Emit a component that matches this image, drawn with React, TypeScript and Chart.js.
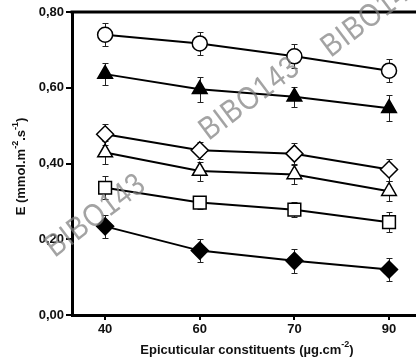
import React, { useEffect, useRef } from 'react';
import { Chart, registerables } from 'chart.js';
Chart.register(...registerables);

const categories = ['40', '60', '70', '90'];
const yTicks = [0, 0.2, 0.4, 0.6, 0.8];

const circleOpen = [0.74, 0.717, 0.683, 0.645];
const circleErr = [0.031, 0.03, 0.032, 0.031];
const triFilled = [0.636, 0.596, 0.576, 0.546];
const triFilledErr = [0.03, 0.033, 0.027, 0.034];
const diamondOpen = [0.477, 0.435, 0.426, 0.384];
const diamondOpenErr = [0.027, 0.022, 0.027, 0.029];
const triOpen = [0.429, 0.38, 0.371, 0.327];
const triOpenErr = [0.03, 0.025, 0.025, 0.026];
const squareOpen = [0.336, 0.297, 0.278, 0.245];
const squareErr = [0.031, 0.017, 0.02, 0.027];
const diamondFilled = [0.234, 0.17, 0.143, 0.12];
const diamondFilledErr = [0.03, 0.03, 0.031, 0.03];

const yTitle = [
  { t: 'E (mmol.m' },
  { t: '-2', sup: true },
  { t: '.s' },
  { t: '-1', sup: true },
  { t: ')' },
];
const xTitle = [
  { t: 'Epicuticular constituents (\u00b5g.cm' },
  { t: '-2', sup: true },
  { t: ')' },
];
const watermark = 'BIBO143';

const FONT = '"Liberation Sans", Arial, sans-serif';

function drawRich(ctx: CanvasRenderingContext2D, segs: any[], x: number, y: number, size: number) {
  const norm = `bold ${size}px ${FONT}`;
  const sup = `bold ${Math.round(size * 0.68)}px ${FONT}`;
  let total = 0;
  for (const s of segs) {
    ctx.font = s.sup ? sup : norm;
    total += ctx.measureText(s.t).width;
  }
  let cx = x - total / 2;
  ctx.textAlign = 'left';
  ctx.textBaseline = 'middle';
  for (const s of segs) {
    ctx.font = s.sup ? sup : norm;
    ctx.fillText(s.t, cx, s.sup ? y - size * 0.4 : y);
    cx += ctx.measureText(s.t).width;
  }
}

const errorBarPlugin = {
  id: 'errorBars',
  beforeDatasetsDraw(chart: any) {
    const ctx = chart.ctx;
    const ys = chart.scales.y;
    ctx.save();
    ctx.strokeStyle = '#222';
    ctx.lineWidth = 1;
    chart.data.datasets.forEach((ds: any, di: number) => {
      const meta = chart.getDatasetMeta(di);
      meta.data.forEach((pt: any, i: number) => {
        const v = ds.data[i].y;
        const e = ds.errors[i];
        const x = Math.round(pt.x) + 0.5;
        const y1 = Math.round(ys.getPixelForValue(v + e)) + 0.5;
        const y2 = Math.round(ys.getPixelForValue(v - e)) + 0.5;
        ctx.beginPath();
        ctx.moveTo(x, y1);
        ctx.lineTo(x, y2);
        ctx.moveTo(x - 3, y1);
        ctx.lineTo(x + 3, y1);
        ctx.moveTo(x - 3, y2);
        ctx.lineTo(x + 3, y2);
        ctx.stroke();
      });
    });
    ctx.restore();
  },
};

const decorPlugin = {
  id: 'decor',
  afterDraw(chart: any) {
    const ctx = chart.ctx;
    const a = chart.chartArea;
    ctx.save();
    // top frame line
    ctx.strokeStyle = '#000';
    ctx.lineWidth = 3;
    ctx.beginPath();
    ctx.moveTo(a.left - 1.5, a.top);
    ctx.lineTo(a.right, a.top);
    ctx.stroke();
    // axis titles
    ctx.fillStyle = '#111';
    drawRich(ctx, xTitle, 247, 350, 13);
    ctx.save();
    ctx.translate(21, (a.top + a.bottom) / 2 + 3);
    ctx.rotate(-Math.PI / 2);
    drawRich(ctx, yTitle, 0, 0, 13);
    ctx.restore();
    // watermarks
    const marks = [
      [96, 216],
      [250, 99],
      [372, 16],
    ];
    ctx.fillStyle = 'rgba(128,128,128,0.72)';
    ctx.font = `32px ${FONT}`;
    ctx.textAlign = 'center';
    ctx.textBaseline = 'middle';
    (ctx as any).letterSpacing = '1px';
    for (const [mx, my] of marks) {
      ctx.save();
      ctx.translate(mx, my);
      ctx.rotate((-37 * Math.PI) / 180);
      ctx.scale(0.85, 1);
      ctx.fillText(watermark, 0, 0);
      ctx.restore();
    }
    ctx.restore();
  },
};

function mk(values: number[], errors: number[], pointStyle: string, fill: boolean, radius: number) {
  return {
    data: values.map((v, i) => ({ x: i, y: v })),
    errors,
    borderColor: '#000',
    borderWidth: 2,
    pointStyle,
    pointRadius: radius,
    pointBackgroundColor: fill ? '#000' : '#fff',
    pointBorderColor: '#000',
    pointBorderWidth: 1.5,
    tension: 0,
    fill: false,
  };
}

export default function App() {
  const ref = useRef<HTMLCanvasElement>(null);
  useEffect(() => {
    const chart = new Chart(ref.current!, {
      type: 'line',
      data: {
        datasets: [
          mk(circleOpen, circleErr, 'circle', false, 7.5),
          mk(triFilled, triFilledErr, 'triangle', true, 8.5),
          mk(diamondOpen, diamondOpenErr, 'rectRot', false, 8.5),
          mk(triOpen, triOpenErr, 'triangle', false, 8.5),
          mk(squareOpen, squareErr, 'rect', false, 9),
          mk(diamondFilled, diamondFilledErr, 'rectRot', true, 8.5),
        ] as any,
      },
      options: {
        animation: false,
        responsive: false,
        layout: { autoPadding: false, padding: { top: 12, right: 0, left: 0, bottom: 0 } },
        plugins: { legend: { display: false }, tooltip: { enabled: false } },
        scales: {
          x: {
            type: 'linear',
            min: -0.35,
            max: 3.285,
            afterBuildTicks: (s: any) => {
              s.ticks = categories.map((_, i) => ({ value: i }));
            },
            afterFit: (s: any) => {
              s.height = 44;
              s.paddingLeft = 0;
              s.paddingRight = 0;
            },
            ticks: {
              callback: (v: any) => categories[v],
              color: '#111',
              font: { family: FONT, size: 13, weight: 'bold' },
              padding: 2,
              maxRotation: 0,
            },
            grid: { drawOnChartArea: false, drawTicks: true, tickLength: 5, color: '#000', lineWidth: 2 },
            border: { display: true, color: '#000', width: 3 },
          },
          y: {
            type: 'linear',
            min: 0,
            max: 0.8,
            afterBuildTicks: (s: any) => {
              s.ticks = yTicks.map((v) => ({ value: v }));
            },
            afterFit: (s: any) => {
              s.width = 72;
              s.paddingTop = 0;
              s.paddingBottom = 0;
            },
            ticks: {
              callback: (v: any) => Number(v).toFixed(2).replace('.', ','),
              color: '#111',
              font: { family: FONT, size: 13, weight: 'bold' },
              padding: 2,
            },
            grid: { drawOnChartArea: false, drawTicks: true, tickLength: 6, color: '#000', lineWidth: 2 },
            border: { display: true, color: '#000', width: 3 },
          },
        },
      } as any,
      plugins: [errorBarPlugin, decorPlugin],
    });
    return () => chart.destroy();
  }, []);
  return (
    <div style={{ position: 'fixed', left: 0, top: 0, width: 416, height: 359, background: '#fff' }}>
      <canvas ref={ref} width={416} height={359} />
    </div>
  );
}
